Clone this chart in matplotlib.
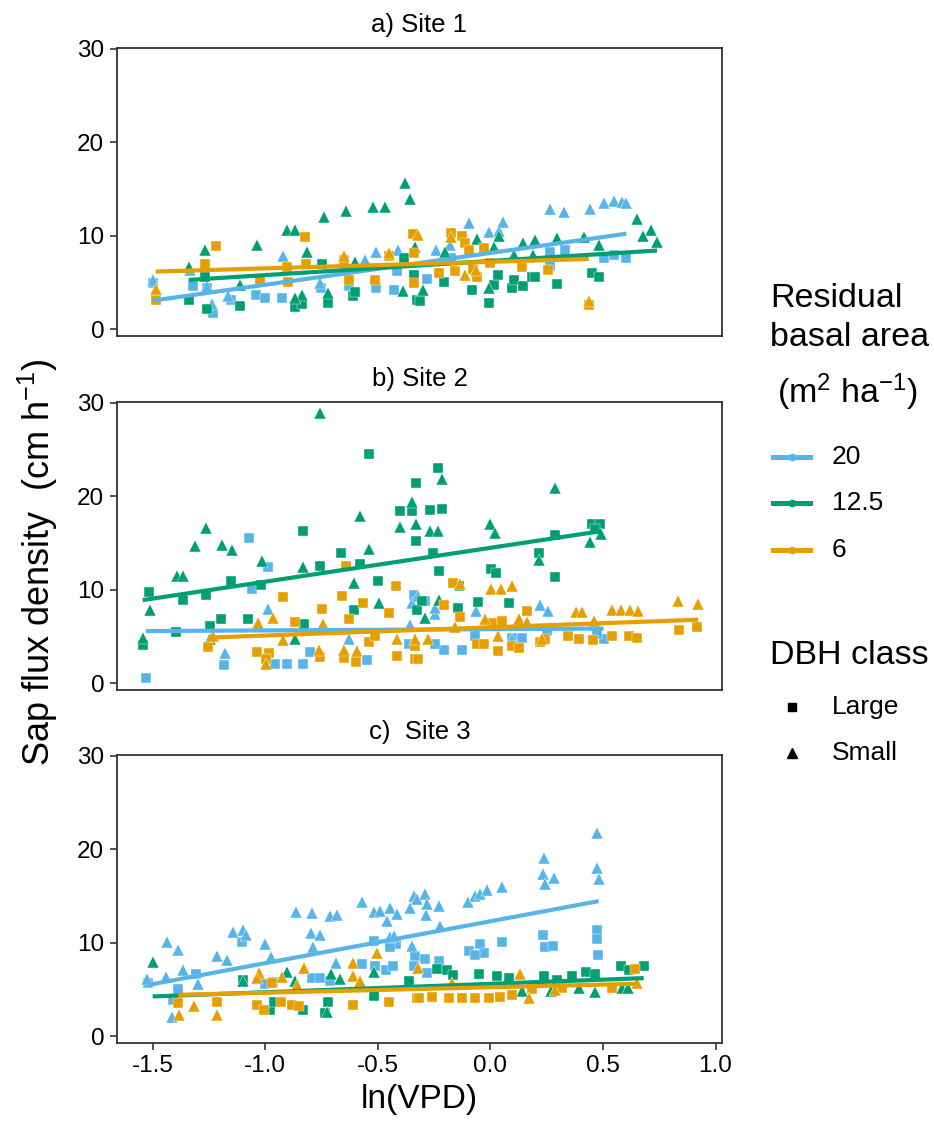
import numpy as np
import matplotlib.pyplot as plt
from matplotlib.lines import Line2D

plt.rcParams['font.family'] = ['Liberation Sans', 'DejaVu Sans']
plt.rcParams['mathtext.fontset'] = 'custom'
plt.rcParams['mathtext.rm'] = 'Liberation Sans'
plt.rcParams['mathtext.it'] = 'Liberation Sans:italic'

# colours for residual basal area (m2 ha-1)
basal_levels = ['20', '12.5', '6']
basal_colors = {'20': '#56B4E9', '12.5': '#009E73', '6': '#E69F00'}
dbh_classes = ['Large', 'Small']
dbh_markers = ['s', '^']
site_titles = ['a) Site 1', 'b) Site 2', 'c)  Site 3']

# ---- Site 1 ----
s1_20_large_x = [-1.497, -1.319, -1.23, -1.26, -1.153, -1.04, -1.0, -0.926, -0.753, -0.63, -0.508, -0.427, -0.415,
                 -0.282, -0.174, 0.266, 0.333, 0.503, 0.603, 0.548, 0.266]
s1_20_large_y = [4.9, 4.6, 1.7, 4.4, 3.1, 3.7, 3.3, 3.3, 4.4, 4.6, 4.4, 4.2, 6.2,
                 5.4, 7.6, 8.3, 8.5, 7.6, 7.6, 7.9, 6.8]
s1_20_small_x = [-1.497, -1.334, -1.236, -1.164, -0.923, -0.756, -0.559, -0.507, -0.412, -1.257,
                 -0.097, -0.005, 0.037, 0.056, -0.242, 0.266, 0.326, 0.444, 0.503, 0.548, 0.585, 0.604, -0.178]
s1_20_small_y = [5.3, 6.3, 2.7, 3.5, 7.8, 4.9, 7.4, 8.3, 8.5, 4.6,
                 11.4, 10.4, 10.5, 11.5, 8.5, 12.9, 12.5, 12.9, 13.5, 13.7, 13.6, 13.5, 9.0]
s1_12_large_x = [-1.257, -1.112, -0.867, -0.837, -0.723, -0.61, -0.6, -1.34, -1.267, -0.749, -0.385, -0.338, -0.326,
                 -0.312, -0.205, -0.082, -0.008, 0.014, 0.034, 0.096, 0.103, 0.143, 0.185, 0.197, 0.296, 0.452, 0.481]
s1_12_large_y = [2.2, 2.5, 2.4, 2.7, 2.8, 3.5, 4.0, 3.1, 5.6, 7.0, 7.6, 5.8, 3.1,
                 3.0, 5.0, 4.2, 2.8, 4.7, 5.8, 4.4, 5.3, 4.6, 5.6, 5.6, 4.8, 6.0, 5.6]
s1_12_small_x = [-0.378, -0.359, -0.522, -0.466, -0.643, -0.74, -0.904, -0.866, -1.037, -1.267, -0.815, -1.34,
                 -1.112, -0.837, -0.866, -0.723, -0.6, -0.39, -0.333, -0.06, 0.037, 0.014, 0.143, 0.2, 0.296,
                 0.415, 0.481, 0.652, 0.715, 0.678, 0.74, -0.2, -0.3, -0.005, 0.188, 0.105]
s1_12_small_y = [15.67, 13.9, 13.1, 13.1, 12.6, 12.0, 10.6, 10.6, 9.0, 8.5, 8.3, 6.7,
                 4.7, 3.7, 3.3, 3.9, 7.2, 4.1, 8.8, 9.6, 10.0, 8.8, 9.2, 9.5, 9.7,
                 9.9, 9.0, 11.75, 10.6, 10.0, 9.3, 8.3, 4.2, 4.4, 7.9, 7.9]
s1_6_large_x = [-1.487, -1.269, -1.218, -1.023, -0.904, -0.823, -0.818, -0.897, -0.627, -0.511, -0.648, -0.452,
                -0.344, -0.341, -0.34, -0.174, -0.127, -0.112, -0.097, -0.03, -0.156, -0.075, 0.0, 0.14, 0.254,
                -0.23, -0.06, 0.437]
s1_6_large_y = [3.1, 7.0, 8.9, 5.3, 6.7, 9.9, 7.0, 5.0, 5.3, 5.3, 7.4, 7.8,
                10.2, 4.9, 8.1, 10.3, 10.0, 9.2, 8.5, 8.65, 6.2, 6.4, 7.1, 6.6, 6.3,
                6.0, 5.6, 2.6]
s1_6_small_x = [-1.487, -0.648, -0.452, -0.174, 0.437, -0.112, -0.063, -0.32]
s1_6_small_y = [4.3, 7.8, 8.1, 9.9, 3.0, 5.8, 6.3, 10.1]

# ---- Site 2 ----
s2_20_large_x = [-1.53, -1.07, -0.986, -1.06, -1.181, -0.956, -0.904, -0.833, -0.8, -0.548, -0.363, -0.338,
                 -0.208, -0.126, -0.245, -0.29, -0.067, 0.096, 0.14, 0.251, 0.503, 0.474]
s2_20_large_y = [0.6, 15.6, 12.5, 10.1, 2.0, 2.1, 2.1, 2.1, 3.4, 2.5, 4.2, 9.5,
                 3.6, 3.6, 4.25, 8.8, 5.1, 4.9, 4.9, 5.6, 4.7, 5.25]
s2_20_small_x = [-0.989, -1.178, -0.63, -0.348, -0.356, -0.245, -0.245, 0.222, 0.254, -0.063, -0.32, 0.096]
s2_20_small_y = [8.0, 3.3, 4.7, 8.6, 6.3, 7.4, 8.1, 8.4, 7.7, 7.75, 9.4, 4.8]
s2_12_large_x = [-1.515, -1.367, -1.263, -1.153, -1.018, -0.834, -0.759, -0.664, -0.581, -0.541, -0.329, -0.4,
                 -0.348, -0.329, -0.497, -0.605, -0.83, -1.078, -1.196, -1.245, -1.396, -1.544, -0.326,
                 -0.233, -0.215, -0.266, -0.257, -0.227, 0.004, 0.025, 0.214, 0.288, 0.288, 0.452, 0.489,
                 0.466, -0.055, 0.081, -0.144, -0.141, -0.304]
s2_12_large_y = [9.8, 8.9, 9.5, 10.9, 10.5, 16.25, 12.6, 13.9, 12.8, 24.5, 21.4, 18.4,
                 18.4, 15.25, 10.9, 7.9, 6.4, 6.9, 6.9, 6.1, 5.5, 4.1, 7.8,
                 23.0, 18.6, 18.5, 13.9, 12.0, 12.2, 11.8, 14.0, 15.9, 11.4, 17.0, 17.0,
                 16.5, 8.7, 8.6, 8.1, 10.4, 8.8]
s2_12_small_x = [-0.759, -1.544, -1.512, -1.393, -1.364, -1.312, -1.263, -1.193, -1.149, -1.015, -0.833,
                 -0.581, -0.538, -0.605, -0.493, -0.4, -0.348, -0.329, -0.87, -1.245,
                 -0.215, -0.267, -0.233, 0.0, 0.022, 0.288, 0.214, 0.444, 0.493, -0.23, -0.29]
s2_12_small_y = [28.9, 4.9, 7.8, 11.5, 11.5, 14.7, 16.6, 14.8, 14.25, 13.1, 12.4,
                 17.9, 14.4, 10.7, 8.6, 16.7, 19.4, 17.0, 4.7, 4.7,
                 21.9, 16.3, 16.25, 17.0, 16.1, 20.9, 13.2, 15.1, 16.0, 8.9, 7.0]
s2_6_large_x = [-1.255, -1.038, -0.982, -0.996, -0.923, -0.867, -0.746, -0.657, -0.626, -0.567, -0.64, -0.596,
                -0.652, -0.541, -0.514, -0.452, -0.418, -0.415, -0.334, -0.334, -0.759,
                -0.204, -0.164, -0.134, -0.06, -0.03, 0.034, 0.163, 0.096, 0.125, 0.222, 0.244, 0.345,
                0.392, 0.454, 0.54, 0.615, 0.652, 0.837, 0.918, 0.007, 0.051, -0.32]
s2_6_large_y = [3.9, 3.4, 3.3, 2.6, 9.25, 6.6, 8.0, 9.4, 6.9, 8.6, 12.6, 2.3,
                2.75, 4.4, 5.1, 7.5, 10.4, 2.9, 4.0, 2.6, 2.8,
                8.4, 10.7, 7.1, 4.2, 4.2, 3.5, 7.75, 4.0, 3.8, 4.4, 4.7, 5.1,
                4.7, 4.6, 5.1, 5.1, 4.9, 5.7, 6.0, 6.5, 6.7, 2.6]
s2_6_small_x = [-1.23, -1.033, -0.967, -0.998, -0.919, -0.744, -0.76, -0.649, -0.593, -0.415, -0.334,
                -0.134, 0.004, 0.048, 0.096, -0.275, -0.159, -0.023, 0.125, 0.163, 0.034, 0.382, 0.407,
                0.459, 0.54, 0.578, 0.619, 0.656, 0.834, 0.923, 0.229]
s2_6_small_y = [5.1, 6.5, 7.0, 2.1, 4.6, 6.4, 3.6, 3.6, 3.5, 4.8, 4.7,
                10.6, 10.1, 10.1, 10.4, 4.7, 6.0, 6.9, 6.9, 6.6, 5.1, 7.6, 7.6,
                6.7, 7.9, 7.8, 7.9, 7.75, 8.8, 8.5, 4.7]

# ---- Site 3 ----
s3_20_large_x = [-1.519, -1.386, -1.41, -1.307, -1.104, -1.0, -0.966, -0.793, -0.756, -0.712, -0.571, -0.519,
                 -0.511, -0.463, -0.433, -0.418, -0.445, -0.334, -0.341,
                 -0.29, -0.282, -0.23, -0.097, -0.045, -0.03, -0.067, 0.051, 0.232, 0.241, 0.277,
                 0.474, 0.474, 0.478]
s3_20_large_y = [5.7, 5.0, 3.9, 6.6, 10.1, 5.6, 5.75, 6.2, 6.2, 5.9, 7.7, 10.2,
                 7.5, 7.1, 7.5, 9.8, 9.5, 8.6, 7.5,
                 8.2, 6.8, 8.0, 9.1, 9.8, 8.9, 8.7, 10.1, 10.8, 9.5, 9.6,
                 11.3, 10.4, 8.7]
s3_20_small_x = [-1.524, -1.438, -1.386, -1.367, -1.44, -1.416, -1.3, -1.215, -1.171, -1.144, -1.1, -1.085,
                 -1.0, -0.974, -0.863, -0.793, -0.797, -0.759, -0.789, -0.714, -0.682, -0.685, -0.571,
                 -0.519, -0.489, -0.448, -0.415, -0.46, -0.445, -0.43, -0.359, -0.341, -0.348,
                 -0.327, -0.29, -0.282, -0.23, -0.285, -0.223, -0.1, -0.07, -0.045, -0.015, 0.051,
                 0.24, 0.232, 0.281, 0.241, 0.474, 0.474, 0.481]
s3_20_small_y = [6.1, 10.1, 9.2, 7.05, 6.3, 2.0, 5.6, 8.6, 8.1, 11.1, 11.3, 10.8,
                 9.8, 8.5, 13.3, 13.2, 11.0, 10.8, 9.5, 12.8, 12.9, 7.8, 14.3,
                 13.3, 13.4, 13.7, 13.1, 12.3, 10.6, 10.7, 13.7, 15.0, 9.6,
                 14.7, 15.2, 14.1, 13.9, 12.9, 11.8, 14.3, 15.0, 15.2, 15.6, 15.9,
                 19.1, 17.3, 16.9, 16.3, 21.7, 18.0, 16.8]
s3_12_large_x = [-1.097, -0.978, -0.963, -0.882, -0.833, -0.734, -0.722, -0.519, -0.363,
                 -0.238, -0.193, -0.164, -0.052, 0.03, 0.081, 0.237, 0.296, 0.363, 0.425, 0.466,
                 0.582, 0.615, 0.681]
s3_12_large_y = [6.0, 2.8, 3.7, 3.35, 2.8, 2.5, 3.7, 4.25, 5.9,
                 7.2, 7.1, 6.5, 6.6, 6.4, 6.2, 6.4, 6.0, 6.4, 6.9, 6.6,
                 7.55, 7.1, 7.5]
s3_12_small_x = [-1.5, -1.1, -0.904, -0.867, -0.709, -0.67, -0.516, -0.726,
                 0.14, 0.27, 0.392, 0.466, 0.585, 0.612]
s3_12_small_y = [7.9, 5.9, 6.9, 5.9, 6.6, 6.1, 6.9, 2.6,
                 4.8, 4.8, 5.1, 4.7, 5.1, 5.1]
s3_6_large_x = [-1.386, -1.215, -1.038, -1.005, -0.971, -0.931, -0.882, -0.852, -0.608, -0.452, -0.326,
                -0.319, -0.26, -0.186, -0.127, -0.067, -0.008, 0.044, 0.096, 0.185, 0.318, 0.541, 0.644]
s3_6_large_y = [3.5, 3.6, 3.35, 2.8, 5.7, 3.7, 3.35, 3.2, 3.35, 3.7, 4.1,
                4.1, 4.2, 4.1, 4.1, 4.1, 4.1, 4.2, 4.4, 5.0, 5.1, 5.1, 7.2]
s3_6_small_x = [-1.383, -1.316, -1.215, -1.026, -1.038, -0.926, -0.857, -0.827, -0.608, -0.608, -0.504,
                -0.578, -0.322, 0.133, 0.17, -0.171, 0.652, 0.285]
s3_6_small_y = [2.3, 3.2, 2.3, 6.8, 6.2, 6.3, 5.5, 7.3, 7.8, 6.4, 8.9,
                5.9, 7.3, 6.6, 4.1, 5.7, 5.7, 4.9]

# fitted linear models: (intercept, slope) per site and basal area
fit_intercept = [[8.15, 7.29, 7.2], [5.8, 14.5, 6.0], [12.28, 5.59, 5.22]]
fit_slope = [[3.40, 1.51, 0.70], [0.13, 3.62, 0.88], [4.48, 0.90, 0.58]]

sites = [
    {'20': (s1_20_large_x, s1_20_large_y, s1_20_small_x, s1_20_small_y),
     '12.5': (s1_12_large_x, s1_12_large_y, s1_12_small_x, s1_12_small_y),
     '6': (s1_6_large_x, s1_6_large_y, s1_6_small_x, s1_6_small_y)},
    {'20': (s2_20_large_x, s2_20_large_y, s2_20_small_x, s2_20_small_y),
     '12.5': (s2_12_large_x, s2_12_large_y, s2_12_small_x, s2_12_small_y),
     '6': (s2_6_large_x, s2_6_large_y, s2_6_small_x, s2_6_small_y)},
    {'20': (s3_20_large_x, s3_20_large_y, s3_20_small_x, s3_20_small_y),
     '12.5': (s3_12_large_x, s3_12_large_y, s3_12_small_x, s3_12_small_y),
     '6': (s3_6_large_x, s3_6_large_y, s3_6_small_x, s3_6_small_y)},
]

W, H = 934, 1125
fig = plt.figure(figsize=(W / 100, H / 100), dpi=100)
panel_bottoms = [0.7016, 0.3867, 0.0732]
axes = [fig.add_axes([0.1249, b, 0.6484, 0.256]) for b in panel_bottoms]

for i, ax in enumerate(axes):
    data = sites[i]
    for lev in basal_levels:
        lx, ly, sx, sy = data[lev]
        c = basal_colors[lev]
        ax.plot(lx, ly, ls='none', marker='s', ms=7, color=c, mec='white', mew=0.3)
        ax.plot(sx, sy, ls='none', marker='^', ms=8.5, color=c, mec='white', mew=0.3)
    for j, lev in enumerate(basal_levels):
        lx, ly, sx, sy = data[lev]
        allx = np.array(lx + sx)
        xx = np.array([allx.min(), allx.max()])
        ax.plot(xx, fit_intercept[i][j] + fit_slope[i][j] * xx, color=basal_colors[lev], lw=3,
                solid_capstyle='butt')

    ax.set_xlim(-1.66, 1.03)
    ax.set_ylim(-0.7, 30.1)
    ax.set_yticks([0, 10, 20, 30])
    ax.set_xticks([-1.5, -1.0, -0.5, 0.0, 0.5, 1.0])
    ax.set_xticklabels(['-1.5', '-1.0', '-0.5', '0.0', '0.5', '1.0'])
    for sp in ax.spines.values():
        sp.set_color('#333333')
        sp.set_linewidth(1.3)
    ax.tick_params(axis='both', direction='out', length=5, width=1.2, color='#333333',
                   labelsize=17.5, labelcolor='black', pad=4)
    ax.set_title(site_titles[i], fontsize=18.5, pad=11.5)
    if i < 2:
        ax.tick_params(axis='x', bottom=False, labelbottom=False)

axes[2].set_xlabel('ln(VPD)', fontsize=24, labelpad=5)
fig.text(38 / W, 1 - 562 / H, 'Sap flux density  (cm h$^{-1}$)', rotation=90, fontsize=26,
         ha='center', va='center')


# legends drawn by hand so the spacing follows the original layout
def fx(px):
    return px / W


def fy(py):
    return 1 - py / H


fig.text(fx(770), fy(298), 'Residual', fontsize=24.5, va='center', ha='left')
fig.text(fx(770), fy(337), 'basal area', fontsize=24.5, va='center', ha='left')
fig.text(fx(777), fy(392), '(m$^2$ ha$^{-1}$)', fontsize=24.5, va='center', ha='left')
for k, lev in enumerate(basal_levels):
    yk = fy(457 + 46.5 * k)
    fig.add_artist(Line2D([fx(773), fx(810)], [yk, yk], color=basal_colors[lev], lw=3.6,
                          transform=fig.transFigure))
    fig.add_artist(Line2D([fx(791.5)], [yk], color=basal_colors[lev], marker='o', ms=4.5,
                          transform=fig.transFigure))
    fig.text(fx(832), yk, lev, fontsize=19, va='center', ha='left')

fig.text(fx(770), fy(655), 'DBH class', fontsize=24.5, va='center', ha='left')
for k, (name, mk) in enumerate(zip(dbh_classes, dbh_markers)):
    yk = fy(707 + 46 * k)
    fig.add_artist(Line2D([fx(792)], [yk], color='black', marker=mk, ls='none',
                          ms=6 if mk == 's' else 7, transform=fig.transFigure))
    fig.text(fx(832), yk, name, fontsize=19, va='center', ha='left')

fig.savefig('out.png', dpi=100)
